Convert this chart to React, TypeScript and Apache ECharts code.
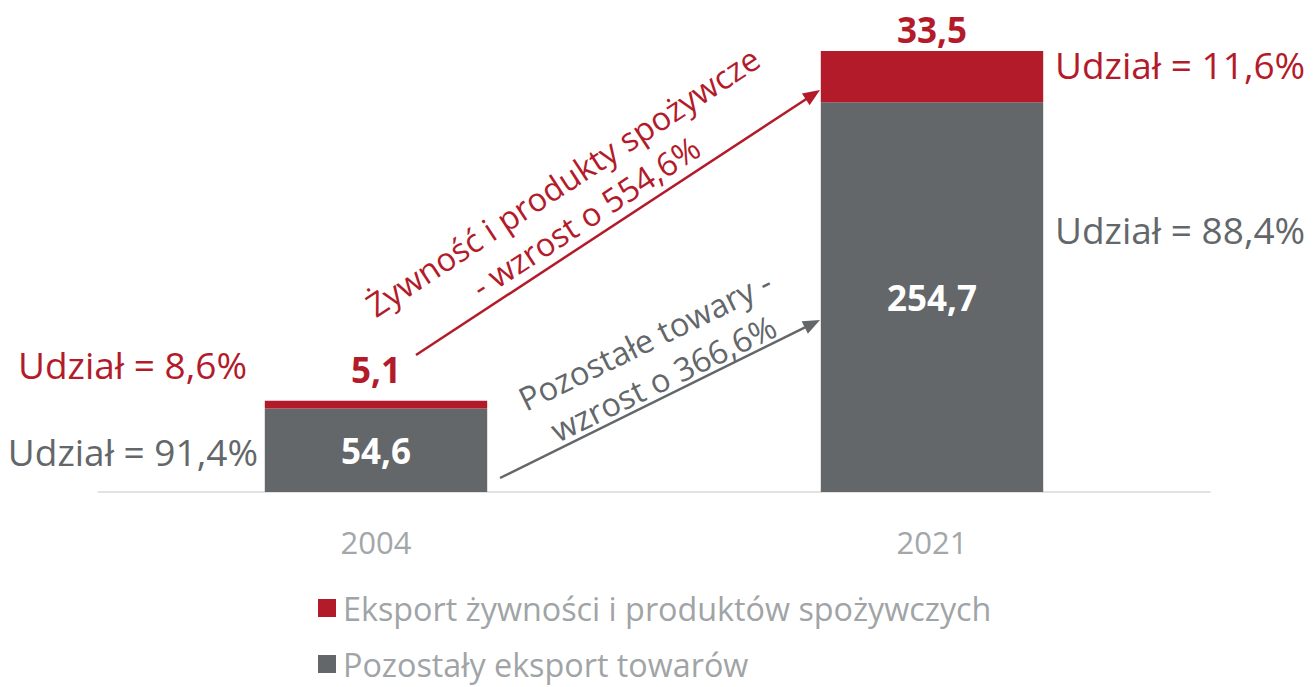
import React, { useEffect, useRef } from "react";
import * as echarts from "echarts";

const categories = ["2004", "2021"];
const foodValues = [5.1, 33.5];
const otherValues = [54.6, 254.7];
const foodShares = ["Udział = 8,6%", "Udział = 11,6%"];
const otherShares = ["Udział = 91,4%", "Udział = 88,4%"];
const seriesNames = ["Eksport żywności i produktów spożywczych", "Pozostały eksport towarów"];
const foodGrowth = "Żywność i produkty spożywcze\n- wzrost o 554,6%";
const otherGrowth = "Pozostałe towary -\nwzrost o 366,6%";

const RED = "#b31b2a";
const GRAY = "#63676a";
const FONT = "'Open Sans', sans-serif";

const fmt = (v: number) => v.toFixed(1).replace(".", ",");
const topLabelDistance = [14, 4];

function arrow(x1: number, y1: number, x2: number, y2: number, color: string) {
  const dx = x2 - x1, dy = y2 - y1;
  const len = Math.sqrt(dx * dx + dy * dy);
  const ux = dx / len, uy = dy / len;
  const px = -uy, py = ux;
  const L = 17, W = 7;
  const bx = x2 - ux * L, by = y2 - uy * L;
  return [
    { type: "line", shape: { x1, y1, x2: bx + ux * 2, y2: by + uy * 2 }, style: { stroke: color, lineWidth: 2.5 }, silent: true },
    { type: "polygon", shape: { points: [[x2, y2], [bx + px * W, by + py * W], [bx - px * W, by - py * W]] }, style: { fill: color }, silent: true },
  ];
}

export default function App() {
  const ref = useRef<HTMLDivElement>(null);
  useEffect(() => {
    const chart = echarts.init(ref.current!, null, { renderer: "svg" });
    const shareText = (text: string, x: number, y: number, color: string, align: string) => ({
      type: "text", x, y,
      style: { text, fill: color, font: `37px ${FONT}`, textAlign: align, textVerticalAlign: "middle" },
    });
    chart.setOption({
      animation: false,
      textStyle: { fontFamily: FONT },
      grid: { left: 98, right: 104, top: 51, bottom: 195 },
      xAxis: {
        type: "category",
        data: categories,
        axisLine: { lineStyle: { color: "#d9d9d9", width: 1.5 } },
        axisTick: { show: false },
        axisLabel: { color: "#a3a7a9", fontSize: 31, margin: 34, fontFamily: FONT },
      },
      yAxis: { type: "value", min: 0, max: 288.2, show: false, splitLine: { show: false } },
      legend: {
        orient: "vertical",
        left: 318,
        top: 591,
        padding: 0,
        itemWidth: 18,
        itemHeight: 18,
        itemGap: 22,
        icon: "rect",
        textStyle: { color: "#a0a4a6", fontSize: 32.3, lineHeight: 34, fontFamily: FONT, padding: [0, 0, 0, 2] },
        data: [seriesNames[0], seriesNames[1]],
      },
      series: [
        {
          name: seriesNames[1],
          type: "bar",
          stack: "total",
          barWidth: "40%",
          data: otherValues,
          itemStyle: { color: GRAY },
          label: { show: true, position: "inside", color: "#fff", fontWeight: "bold", fontSize: 35, fontFamily: FONT, formatter: (p: any) => fmt(p.value) },
        },
        {
          name: seriesNames[0],
          type: "bar",
          stack: "total",
          barWidth: "40%",
          data: foodValues.map((v, i) => ({ value: v, label: { distance: topLabelDistance[i] } })),
          itemStyle: { color: RED },
          label: { show: true, position: "top", color: RED, fontWeight: "bold", fontSize: 35, fontFamily: FONT, formatter: (p: any) => fmt(p.value) },
        },
      ],
      graphic: [
        shareText(foodShares[0], 247, 364, RED, "right"),
        shareText(otherShares[0], 258, 451, GRAY, "right"),
        shareText(foodShares[1], 1055, 64, RED, "left"),
        shareText(otherShares[1], 1055, 229, GRAY, "left"),
        ...arrow(416, 355, 820, 90, RED),
        ...arrow(500, 478, 820, 320, GRAY),
        {
          type: "text", x: 574, y: 199, rotation: (33.2 * Math.PI) / 180,
          style: { text: foodGrowth, fill: RED, font: `32.5px ${FONT}`, lineHeight: 42, textAlign: "center", textVerticalAlign: "middle" },
        },
        {
          type: "text", x: 654, y: 359, rotation: (26 * Math.PI) / 180,
          style: { text: otherGrowth, fill: GRAY, font: `32.5px ${FONT}`, lineHeight: 42, textAlign: "center", textVerticalAlign: "middle" },
        },
      ],
    });
    return () => chart.dispose();
  }, []);
  return <div ref={ref} style={{ width: 1314, height: 687, position: "absolute", left: 0, top: 0 }} />;
}
